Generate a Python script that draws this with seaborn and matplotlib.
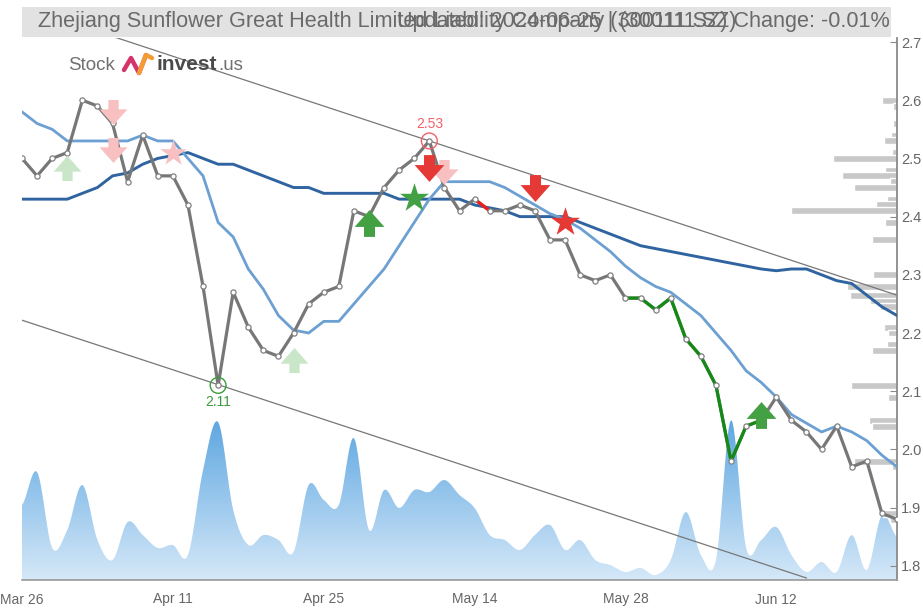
import numpy as np
import pandas as pd
import matplotlib
matplotlib.use("Agg")
import matplotlib.pyplot as plt
import seaborn as sns
from matplotlib.path import Path
from matplotlib.patches import Rectangle, PathPatch
from matplotlib.lines import Line2D
from matplotlib.colors import LinearSegmentedColormap

# ---- data (trading-day index 0..58) ----
tick_idx = [0, 10, 20, 30, 40, 50]
tick_labels = ["Mar 26", "Apr 11", "Apr 25", "May 14", "May 28", "Jun 12"]

close = [2.50, 2.47, 2.50, 2.51, 2.60, 2.59, 2.56, 2.46, 2.54, 2.47,
         2.47, 2.42, 2.28, 2.11, 2.27, 2.21, 2.17, 2.16, 2.20, 2.25,
         2.27, 2.28, 2.41, 2.40, 2.45, 2.48, 2.50, 2.53, 2.45, 2.41,
         2.43, 2.41, 2.41, 2.42, 2.41, 2.36, 2.36, 2.30, 2.29, 2.30,
         2.26, 2.26, 2.24, 2.26, 2.19, 2.16, 2.11, 1.98, 2.04, 2.05,
         2.09, 2.05, 2.03, 2.00, 2.04, 1.97, 1.98, 1.89, 1.88]

ma_short = [2.58, 2.56, 2.55, 2.53, 2.53, 2.53, 2.53, 2.53, 2.54, 2.53,
            2.53, 2.50, 2.47, 2.39, 2.365, 2.31, 2.275, 2.23, 2.205, 2.20,
            2.22, 2.22, 2.25, 2.28, 2.31, 2.35, 2.39, 2.43, 2.46, 2.46,
            2.46, 2.46, 2.45, 2.435, 2.42, 2.405, 2.395, 2.38, 2.36, 2.34,
            2.315, 2.295, 2.28, 2.27, 2.25, 2.23, 2.20, 2.17, 2.135, 2.115,
            2.09, 2.06, 2.045, 2.03, 2.04, 2.03, 2.015, 1.99, 1.97]

ma_long = [2.43, 2.43, 2.43, 2.43, 2.44, 2.45, 2.47, 2.475, 2.49, 2.50,
           2.505, 2.51, 2.50, 2.49, 2.49, 2.48, 2.47, 2.46, 2.45, 2.45,
           2.44, 2.44, 2.44, 2.44, 2.44, 2.43, 2.43, 2.43, 2.43, 2.43,
           2.42, 2.415, 2.41, 2.40, 2.40, 2.40, 2.40, 2.39, 2.38, 2.37,
           2.36, 2.35, 2.345, 2.34, 2.335, 2.33, 2.325, 2.32, 2.315, 2.31,
           2.307, 2.31, 2.31, 2.30, 2.29, 2.285, 2.265, 2.245, 2.23]

volume = [75, 108, 32, 50, 95, 40, 20, 58, 45, 32,
          35, 25, 110, 158, 70, 35, 45, 40, 28, 95,
          80, 75, 142, 50, 90, 72, 90, 88, 100, 85,
          72, 45, 40, 30, 45, 55, 30, 40, 20, 15,
          8, 12, 5, 20, 68, 25, 20, 160, 32, 40,
          53, 25, 8, 18, 8, 45, 10, 65, 43]

# volume-at-price profile (right edge)
profile_price = [2.60, 2.59, 2.56, 2.54, 2.53, 2.51, 2.50, 2.48, 2.47, 2.46,
                 2.45, 2.43, 2.42, 2.41, 2.39, 2.36, 2.30, 2.28, 2.265, 2.255,
                 2.245, 2.21, 2.20, 2.18, 2.17, 2.11, 2.09, 2.05, 2.04, 1.98,
                 1.97, 1.89, 1.88]
profile_size = [15, 4, 4, 6, 13, 5, 64, 12, 55, 7,
                43, 10, 21, 106, 12, 25, 24, 50, 47, 27,
                17, 13, 9, 10, 25, 46, 9, 28, 25, 43,
                5, 14, 7]

# trend channel end points (index, price)
upper_x, upper_y = [0, 58], [2.761, 2.265]
lower_x, lower_y = [0, 52], [2.222, 1.779]

# signals (index, price)
up_x, up_y = [23, 49], [2.389, 2.059]
up_pale_x, up_pale_y = [3, 18], [2.483, 2.153]
down_x, down_y = [27, 34], [2.484, 2.45]
down_pale_x, down_pale_y = [6, 6, 28], [2.58, 2.514, 2.477]
star_green_x, star_green_y = [26], [2.432]
star_red_x, star_red_y = [36], [2.39]
star_pale_x, star_pale_y = [10], [2.51]

high_idx, low_idx = 27, 13
red_seg = [30, 31]
green_seg = list(range(40, 50))

df = pd.DataFrame({"i": np.arange(len(close)), "close": close,
                   "ma_short": ma_short, "ma_long": ma_long, "volume": volume})

sns.set_style("white")
plt.rcParams["font.family"] = ["Liberation Sans", "DejaVu Sans"]

W, H = 923, 608
fig = plt.figure(figsize=(W / 100, H / 100), dpi=100)
rect = [22 / W, 28 / H, 875 / W, 542 / H]

# volume axis underneath
vax = fig.add_axes(rect)
ax = fig.add_axes(rect, sharex=vax)
ax.patch.set_alpha(0)


def spline(x, y, n=12):
    x = np.asarray(x, float)
    y = np.asarray(y, float)
    yp = np.concatenate([[y[0]], y, [y[-1]]])
    t = np.linspace(0, 1, n, endpoint=False)
    xs, ys = [], []
    for k in range(len(x) - 1):
        p0, p1, p2, p3 = yp[k], yp[k + 1], yp[k + 2], yp[k + 3]
        seg = 0.5 * (2 * p1 + (-p0 + p2) * t + (2 * p0 - 5 * p1 + 4 * p2 - p3) * t ** 2
                     + (-p0 + 3 * p1 - 3 * p2 + p3) * t ** 3)
        xs.append(x[k] + (x[k + 1] - x[k]) * t)
        ys.append(seg)
    xs.append([x[-1]])
    ys.append([y[-1]])
    return np.concatenate(xs), np.clip(np.concatenate(ys), 0, None)


vx, vy = spline(df["i"], df["volume"])
poly = vax.fill_between(vx, 0, vy, color="none", lw=0)
clip = PathPatch(poly.get_paths()[0], transform=vax.transData, facecolor="none", edgecolor="none")
vax.add_patch(clip)
cmap = LinearSegmentedColormap.from_list("vol", ["#d5e8f8", "#5ea7e1"])
grad = np.linspace(0, 1, 256).reshape(-1, 1)
im = vax.imshow(grad, extent=[0, 58, 0, max(volume)], origin="lower", aspect="auto",
                cmap=cmap, zorder=1)
im.set_clip_path(clip)
vax.set_ylim(0, 542)
vax.set_xlim(0, 58)
vax.axis("off")

# price profile bars growing from the right edge
px_per_idx = 875 / 58
ax.barh(profile_price, [-s / px_per_idx for s in profile_size], left=58, height=0.012,
        color="#c8c8c8", zorder=1)

# channel
sns.lineplot(x=upper_x, y=upper_y, ax=ax, color="#777777", lw=0.9, zorder=2)
sns.lineplot(x=lower_x, y=lower_y, ax=ax, color="#777777", lw=0.9, zorder=2)

# moving averages
sns.lineplot(data=df, x="i", y="ma_long", ax=ax, color="#2f64a0", lw=2.1, zorder=3)
sns.lineplot(data=df, x="i", y="ma_short", ax=ax, color="#6c9fd2", lw=2.0, zorder=3)

# price line + coloured stretches
sns.lineplot(data=df, x="i", y="close", ax=ax, color="#777777", lw=2.3, zorder=4)
sns.lineplot(data=df.iloc[red_seg], x="i", y="close", ax=ax, color="#ee1c1c", lw=2.3, zorder=4)
sns.lineplot(data=df.iloc[green_seg], x="i", y="close", ax=ax, color="#138a13", lw=2.3, zorder=4)
ax.scatter(df["i"], df["close"], s=14, facecolor="white", edgecolor="#808080", lw=0.9, zorder=5)

# signal markers
up_arrow = Path([(-0.37, -0.9), (0.37, -0.9), (0.37, -0.23), (1.0, -0.23), (0, 0.9),
                 (-1.0, -0.23), (-0.37, -0.23), (-0.37, -0.9), (-0.37, -0.9)], closed=True)
down_arrow = Path(up_arrow.vertices * [1, -1], closed=True)

ax.scatter(up_pale_x, up_pale_y, marker=up_arrow, s=400, color="#c9e6c9", lw=0, zorder=6)
ax.scatter(down_pale_x, down_pale_y, marker=down_arrow, s=400, color="#f8c0c0", lw=0, zorder=6)
ax.scatter(star_pale_x, star_pale_y, marker="*", s=400, color="#f8c0c0", lw=0, zorder=6)
ax.scatter(up_x, up_y, marker=up_arrow, s=460, color="#43a043", lw=0, zorder=6)
ax.scatter(down_x, down_y, marker=down_arrow, s=460, color="#e53935", lw=0, zorder=6)
ax.scatter(star_green_x, star_green_y, marker="*", s=480, color="#43a043", lw=0, zorder=6)
ax.scatter(star_red_x, star_red_y, marker="*", s=480, color="#e53935", lw=0, zorder=6)

# high / low marks
ax.scatter([high_idx], [close[high_idx]], s=130, facecolor="none", edgecolor="#f2606a", lw=1, zorder=7)
ax.annotate(f"{close[high_idx]:.2f}", (high_idx, close[high_idx]), xytext=(0, 7),
            textcoords="offset points", ha="center", va="bottom", color="#f2606a", fontsize=10)
ax.scatter([low_idx], [close[low_idx]], s=130, facecolor="none", edgecolor="#3c9c3c", lw=1, zorder=7)
ax.annotate(f"{close[low_idx]:.2f}", (low_idx, close[low_idx]), xytext=(0, -7),
            textcoords="offset points", ha="center", va="top", color="#3c9c3c", fontsize=10)

# axes styling
ax.set_xlim(0, 58)
ax.set_ylim(1.7756, 2.7069)
ax.set_xticks(tick_idx)
ax.set_xticklabels(tick_labels)
ax.set_yticks(np.round(np.arange(1.8, 2.75, 0.1), 1))
ax.yaxis.tick_right()
ax.set_xlabel("")
ax.set_ylabel("")
for s in ["top", "left"]:
    ax.spines[s].set_visible(False)
ax.spines["right"].set_color("#8a8a8a")
ax.spines["right"].set_linewidth(1.3)
ax.spines["bottom"].set_color("#9a9a9a")
ax.spines["bottom"].set_linewidth(1.2)
ax.tick_params(axis="x", direction="out", length=6, color="#9a9a9a", labelsize=10,
               labelcolor="#666666", pad=3)
ax.tick_params(axis="y", direction="in", length=5, color="#8a8a8a", labelsize=10.5,
               labelcolor="#666666", pad=3, right=True, left=False)
ax.grid(False)

# title bar
fig.patches.append(Rectangle((22 / W, 1 - 37 / H), 869 / W, 30 / H, transform=fig.transFigure,
                             facecolor="#e2e2e2", edgecolor="none", zorder=0))
fig.text(890 / W, 1 - 22 / H,
         "Zhejiang Sunflower Great Health Limited Liability Company (300111.SZ) Change: -0.01%",
         ha="right", va="center", fontsize=15.6, color="#6a6a6a")
fig.text(397 / W, 1 - 22 / H, "Updated: 2024-06-25 | (300111.SZ)",
         ha="left", va="center", fontsize=15.6, color="#6a6a6a")

# logo
t1 = fig.text(68 / W, 1 - 65 / H, "Stock", ha="left", va="center", fontsize=13.5, color="#707070")
fig.add_artist(Line2D(np.array([124, 131, 139, 146]) / W, 1 - np.array([70, 58, 73, 55]) / H,
                      color="#d6336c", lw=3.2, transform=fig.transFigure))
fig.add_artist(Line2D(np.array([139, 146, 152]) / W, 1 - np.array([73, 55, 58]) / H,
                      color="#f39c34", lw=3.2, transform=fig.transFigure))
t2 = fig.text(157 / W, 1 - 65 / H, "invest", ha="left", va="center", fontsize=15, color="#4a4a4a",
              fontweight="bold")
fig.canvas.draw()
bb = t2.get_window_extent()
fig.text(bb.x1 / W + 1 / W, 1 - 65 / H, ".us", ha="left", va="center", fontsize=13.5, color="#707070")

fig.savefig("out.png", dpi=100)
